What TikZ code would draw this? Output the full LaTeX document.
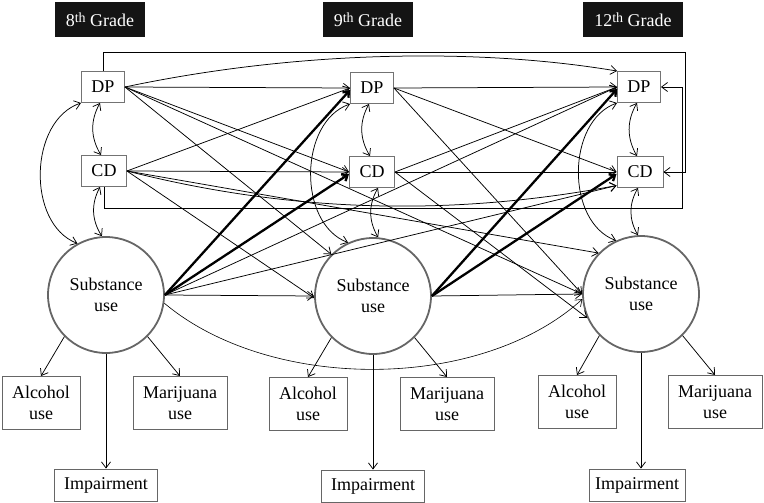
\documentclass[tikz,border=0pt]{standalone}
\usepackage{fontspec}
\setmainfont{Liberation Serif}
\usetikzlibrary{arrows.meta}
\begin{document}
\begin{tikzpicture}[x=1pt,y=-1pt,
  font=\fontsize{18}{20.5}\selectfont,
  >={Straight Barb[length=6pt,width=9pt]},
  conn/.style={->, line width=0.75pt},
  bold/.style={->, line width=2.3pt, >={Straight Barb[length=5pt,width=8pt]}},
  corr/.style={<->, line width=0.75pt},
  grade/.style={fill=black!92, text=white, minimum width=90pt, minimum height=35pt, inner sep=0pt},
  vbox/.style={draw=black!55, line width=0.9pt, minimum height=31pt, inner sep=0pt},
  ind/.style={draw=black!60, line width=0.9pt, minimum height=53pt, inner sep=0pt, align=center},
  imp/.style={draw=black!60, line width=0.9pt, minimum height=32pt, minimum width=103pt, inner sep=0pt},
  lat/.style={circle, draw=black!60, line width=1.8pt, minimum size=116pt, inner sep=0pt, align=center}
]
\useasboundingbox (0,0) rectangle (764,503);

% grade labels
\node[grade] (g8) at (100,20) {8\raisebox{0.45ex}{\fontsize{14}{14}\selectfont th} Grade};
\node[grade] (g9) at (368,20) {9\raisebox{0.45ex}{\fontsize{14}{14}\selectfont th} Grade};
\node[grade, minimum width=100pt] (g12) at (633,20) {12\raisebox{0.45ex}{\fontsize{14}{14}\selectfont th} Grade};

% 8th grade
\node[vbox, minimum width=43pt] (DP8) at (103,87) {DP};
\node[vbox, minimum width=45pt] (CD8) at (104,171) {CD};
\node[lat] (SU8) at (106,295) {Substance\\use};
\node[ind, minimum width=78pt] (A8) at (41,403) {Alcohol\\use};
\node[ind, minimum width=94pt] (M8) at (180,403) {Marijuana\\use};
\node[imp] (I8) at (106,485) {Impairment};

% 9th grade
\node[vbox, minimum width=43pt] (DP9) at (372,88) {DP};
\node[vbox, minimum width=45pt] (CD9) at (372,172) {CD};
\node[lat] (SU9) at (373,296) {Substance\\use};
\node[ind, minimum width=78pt] (A9) at (308,404) {Alcohol\\use};
\node[ind, minimum width=94pt] (M9) at (447,404) {Marijuana\\use};
\node[imp] (I9) at (373,486) {Impairment};

% 12th grade
\node[vbox, minimum width=43pt] (DP12) at (639,87) {DP};
\node[vbox, minimum width=46pt] (CD12) at (640,172) {CD};
\node[lat] (SU12) at (641,294) {Substance\\use};
\node[ind, minimum width=78pt] (A12) at (577,402) {Alcohol\\use};
\node[ind, minimum width=94pt] (M12) at (715,402) {Marijuana\\use};
\node[imp, minimum width=96pt] (I12) at (637,485) {Impairment};

\coordinate (r1) at (685,52);
\coordinate (r2) at (682,208);

% 8 -> 9
\draw[conn] (DP8.east) -- (DP9.west);
\draw[conn] (DP8.east) -- (CD9.west);
\draw[conn] (DP8.east) -- (SU9.135);
\draw[conn] (CD8.east) -- (CD9.west);
\draw[conn] (CD8.east) -- (DP9.west);
\draw[conn] (CD8.east) -- (SU9.182);
\draw[conn] (SU8.east) -- (SU9.west);
\draw[bold] (SU8.east) -- ([yshift=-2pt]DP9.west);
\draw[bold] (SU8.east) -- ([yshift=-2pt]CD9.west);

% 9 -> 12
\draw[conn] (DP9.east) -- (DP12.west);
\draw[conn] (DP9.east) -- (CD12.west);
\draw[conn] (DP9.east) -- (SU12.west);
\draw[conn] (CD9.east) -- (CD12.west);
\draw[conn] (CD9.east) -- (DP12.west);
\draw[conn] (CD9.east) -- (SU12.204);
\draw[conn] (SU9.east) -- (SU12.west);
\draw[bold] (SU9.east) -- ([yshift=-2pt]DP12.west);
\draw[bold] (SU9.east) -- ([yshift=-2pt]CD12.west);

% 8 -> 12
\draw[conn] (DP8.east) .. controls (300,50) and (480,48) .. (DP12.north west);
\draw[conn] (CD8.east) .. controls (300,215) and (460,215) .. (CD12.210);
\draw[conn, line width=0.6pt] (SU8.352) .. controls (270,392) and (480,392) .. (SU12.185);
\draw[conn] (DP8.east) -- (SU12.west);
\draw[conn] (CD8.east) -- (SU12.136);
\draw[conn] (SU8.east) -- (DP12.west);
\draw[conn] (SU8.east) -- (CD12.210);
\draw[conn] (DP8.north) |- (r1) |- (CD12.east);
\draw[conn] (CD8.south) |- (r2) |- (DP12.east);

% correlations
\draw[corr] ([xshift=-3pt]DP8.south) to[bend right=30] ([xshift=-3pt]CD8.north);
\draw[corr] ([xshift=-4pt]CD8.south) to[bend right=30] (SU8.94);
\draw[corr] (DP8.south west) to[bend right=70] (SU8.119);
\draw[corr] ([xshift=-3pt]DP9.south) to[bend right=30] ([xshift=-2pt]CD9.north);
\draw[corr] ([xshift=6pt]CD9.south) to[bend right=30] (SU9.85);
\draw[corr] (DP9.south west) to[bend right=70] (SU9.115);
\draw[corr] ([xshift=-2pt]DP12.south) to[bend right=30] ([xshift=-3pt]CD12.north);
\draw[corr] ([xshift=-2pt]CD12.south) to[bend right=30] (SU12.93);
\draw[corr] (DP12.south west) to[bend right=70] (SU12.115);

% indicators
\draw[conn] (SU8.-135) -- (A8.north);
\draw[conn] (SU8.-45) -- (M8.north);
\draw[conn] (SU8.south) -- (I8.north);
\draw[conn] (SU9.-135) -- (A9.north);
\draw[conn] (SU9.-45) -- (M9.north);
\draw[conn] (SU9.south) -- (I9.north);
\draw[conn] (SU12.-135) -- (A12.north);
\draw[conn] (SU12.-45) -- (M12.north);
\draw[conn] (SU12.south) -- (SU12.south |- I12.north);
\end{tikzpicture}
\end{document}
